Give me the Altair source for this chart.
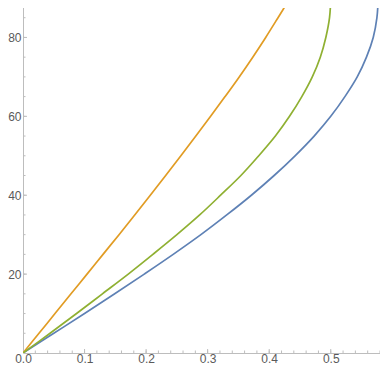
import altair as alt
import pandas as pd

# angle values (y axis) and x readings for each curve
angles = [0, 5, 10, 15, 20, 25, 30, 35, 40, 45, 50, 55, 60, 65, 70, 75, 80, 85, 90]
blue_x = [0, 0.050, 0.100, 0.149, 0.197, 0.244, 0.289, 0.331, 0.371, 0.408, 0.442,
          0.473, 0.500, 0.523, 0.543, 0.558, 0.569, 0.575, 0.577]
orange_x = [0, 0.026, 0.052, 0.078, 0.104, 0.130, 0.156, 0.1815, 0.2068, 0.2318, 0.2565,
            0.2808, 0.3048, 0.3283, 0.3513, 0.3733, 0.3943, 0.4143, 0.434]
green_x = [0, 0.044, 0.087, 0.129, 0.171, 0.211, 0.250, 0.287, 0.321, 0.354, 0.383,
           0.410, 0.433, 0.453, 0.470, 0.483, 0.492, 0.498, 0.500]

series_names = ["blue", "orange", "green"]
series_colors = ["#5E81B5", "#E19C24", "#8FB032"]

x_major = [0.1, 0.2, 0.3, 0.4, 0.5]
x_minor = [round(0.02 * i, 2) for i in range(1, 30)]
y_major = [20, 40, 60, 80]
y_minor = [5 * i for i in range(1, 18)]

rows = []
for name, xs in zip(series_names, [blue_x, orange_x, green_x]):
    for a, xv in zip(angles, xs):
        rows.append({"series": name, "x": xv, "y": a})
df = pd.DataFrame(rows)

W, H = 357, 355
xscale = alt.Scale(domain=[0, 0.58], nice=False, zero=False)
yscale = alt.Scale(domain=[0, 90], nice=False, zero=False)

lines = alt.Chart(df).mark_line(strokeWidth=1.7, interpolate="catmull-rom", clip=True).encode(
    x=alt.X("x:Q", scale=xscale,
            axis=alt.Axis(title=None, values=[0.0] + x_major, format=".1f", ticks=False,
                          grid=False, domainColor="#bdbdbd", domainWidth=1,
                          labelColor="#5a5a5a", labelFontSize=12, labelFont="Liberation Sans",
                          labelPadding=0, labelFlush=False)),
    y=alt.Y("y:Q", scale=yscale,
            axis=alt.Axis(title=None, values=y_major, ticks=False, grid=False,
                          domainColor="#bdbdbd", domainWidth=1,
                          labelColor="#5a5a5a", labelFontSize=12, labelFont="Liberation Sans",
                          labelPadding=2, labelFlush=False)),
    color=alt.Color("series:N", scale=alt.Scale(domain=series_names, range=series_colors), legend=None),
    order="y:Q",
    detail="series:N",
)

xmaj = alt.Chart(pd.DataFrame({"t": x_major})).mark_rule(color="#bdbdbd", strokeWidth=1).encode(
    x=alt.X("t:Q", scale=xscale), y=alt.value(H), y2=alt.value(H - 4))
xmin = alt.Chart(pd.DataFrame({"t": x_minor})).mark_rule(color="#bdbdbd", strokeWidth=1).encode(
    x=alt.X("t:Q", scale=xscale), y=alt.value(H), y2=alt.value(H - 2.5))
ymaj = alt.Chart(pd.DataFrame({"t": y_major})).mark_rule(color="#bdbdbd", strokeWidth=1).encode(
    y=alt.Y("t:Q", scale=yscale), x=alt.value(0), x2=alt.value(4))
ymin = alt.Chart(pd.DataFrame({"t": y_minor})).mark_rule(color="#bdbdbd", strokeWidth=1).encode(
    y=alt.Y("t:Q", scale=yscale), x=alt.value(0), x2=alt.value(2.5))

chart = alt.layer(xmin, xmaj, ymin, ymaj, lines).properties(
    width=W, height=H,
    autosize=alt.AutoSizeParams(type="none"),
    padding={"left": 15, "top": -10, "right": 0, "bottom": 14},
).configure_view(stroke=None)

chart.save("out.html", embed_options={"renderer": "svg", "actions": False})
